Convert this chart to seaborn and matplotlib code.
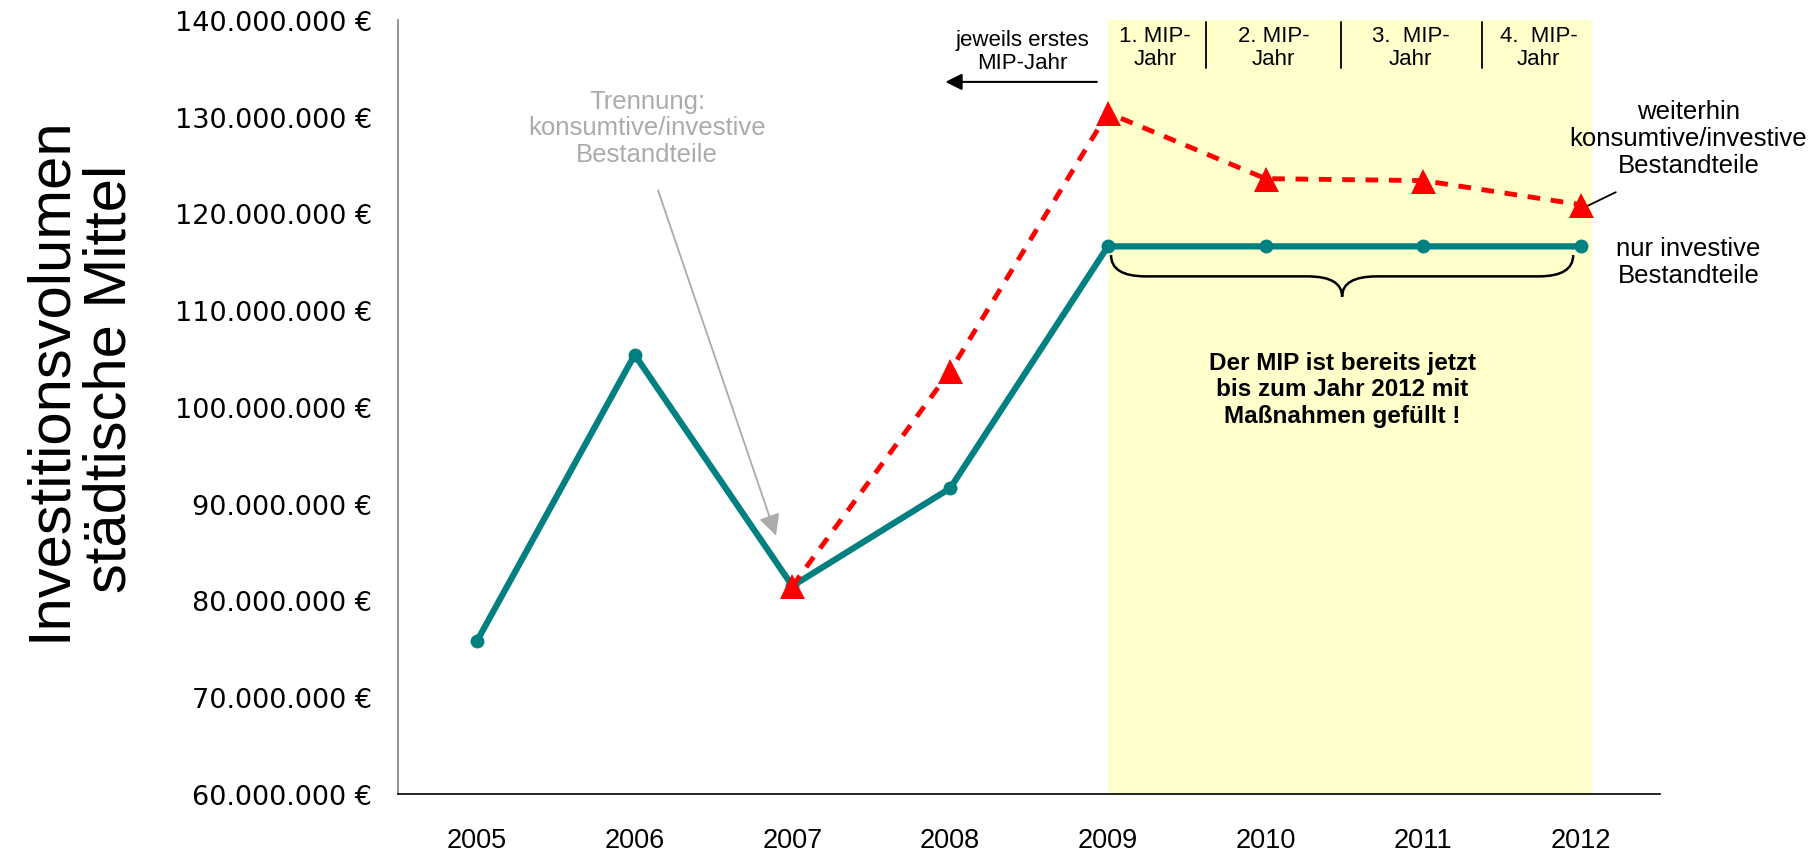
import matplotlib
matplotlib.use("Agg")
import matplotlib.pyplot as plt
from matplotlib.path import Path
from matplotlib.patches import PathPatch
from matplotlib.ticker import FuncFormatter
import numpy as np
import pandas as pd
import seaborn as sns

# Data (Euro)
years = [2005, 2006, 2007, 2008, 2009, 2010, 2011, 2012]
nur_investiv = [75.8e6, 105.4e6, 81.5e6, 91.6e6, 116.6e6, 116.6e6, 116.6e6, 116.6e6]
gesamt = [np.nan, np.nan, 81.5e6, 103.7e6, 130.4e6, 123.6e6, 123.4e6, 120.9e6]
y_ticks = [60e6, 70e6, 80e6, 90e6, 100e6, 110e6, 120e6, 130e6, 140e6]
mip_labels = ["1. MIP-\nJahr", "2. MIP-\nJahr", "3.  MIP-\nJahr", "4.  MIP-\nJahr"]

sns.set_style("white")
plt.rcParams['font.family'] = ['Liberation Sans', 'DejaVu Sans']
plt.rcParams['text.color'] = 'black'
plt.rcParams['xtick.color'] = 'black'
plt.rcParams['ytick.color'] = 'black'

TEAL = '#008080'
RED = '#ff0000'
GRAY = '#ababab'

df = pd.DataFrame({'pos': np.arange(len(years)), 'jahr': years,
                   'investiv': nur_investiv, 'gesamt': gesamt})

fig = plt.figure(figsize=(18.11, 8.53), dpi=100)
ax = fig.add_axes([0.2198, 0.068, 0.6968, 0.9074])

# yellow MIP area
ax.axvspan(4.0, 7.07, color='#ffffcc', zorder=0, lw=0)

sns.lineplot(data=df, x='pos', y='investiv', ax=ax, color=TEAL, lw=4.5,
             marker='o', markersize=10, markeredgewidth=0, estimator=None, zorder=3)
g = df.dropna(subset=['gesamt'])
sns.lineplot(data=g, x='pos', y='gesamt', ax=ax, color=RED, lw=3.5,
             marker='^', markersize=18, markeredgewidth=0, estimator=None,
             dashes=False, zorder=4)
ax.lines[-1].set_dashes([2.6, 2.2])

ax.set_xlim(-0.5, 7.5)
ax.set_ylim(60e6, 140e6)
ax.set_yticks(y_ticks)
ax.yaxis.set_major_formatter(FuncFormatter(lambda v, p: f"{int(v):,}".replace(',', '.') + " €"))
ax.set_xticks(range(len(years)))
ax.set_xticklabels([str(y) for y in years], fontsize=19.5)
ax.set_xticks(np.arange(-0.5, 8.0, 1.0), minor=True)
ax.tick_params(axis='x', which='major', length=0, pad=24)
ax.tick_params(axis='x', which='minor', length=8, width=1, color='black', direction='out')
ax.tick_params(axis='y', length=7, width=1, color='black', direction='out', pad=12)
for lab in ax.get_yticklabels():
    lab.set_fontsize(19.5)
    lab.set_family('DejaVu Sans')
ax.set_xlabel('')
ax.set_ylabel('')
for s in ['top', 'right']:
    ax.spines[s].set_visible(False)
ax.spines['left'].set_color('#808080')
ax.spines['bottom'].set_color('black')
ax.spines['left'].set_linewidth(1.2)
ax.spines['bottom'].set_linewidth(1.2)

fig.text(80 / 1811, 1 - 379 / 853, "Investitionsvolumen\nstädtische Mittel",
         rotation=90, ha='center', va='center', fontsize=43,
         linespacing=1.12, multialignment='center')

# header of MIP years
for xs in [4.62, 5.48, 6.37]:
    ax.plot([xs, xs], [135.0e6, 139.8e6], color='black', lw=1.3, zorder=5)
for xc, lab in zip([4.30, 5.05, 5.92, 6.73], mip_labels):
    ax.text(xc, 137.2e6, lab, ha='center', va='center', fontsize=16,
            linespacing=1.1)

ax.text(3.46, 136.8e6, "jeweils erstes\nMIP-Jahr", ha='center', va='center',
        fontsize=16, linespacing=1.1)
ax.annotate('', xy=(2.97, 133.6e6), xytext=(3.93, 133.6e6),
            arrowprops=dict(arrowstyle='-|>', color='black', lw=1.5,
                            mutation_scale=25, shrinkA=0, shrinkB=0))

# Trennung annotation
ax.text(1.08, 128.9e6, "Trennung:\nkonsumtive/investive\nBestandteile", ha='center',
        va='center', fontsize=18.5, color=GRAY, linespacing=1.15)
ax.annotate('', xy=(1.896, 86.7e6), xytext=(1.148, 122.4e6),
            arrowprops=dict(arrowstyle='-|>', color=GRAY, lw=1.3,
                            mutation_scale=32, shrinkA=0, shrinkB=0))

# right annotations
ax.text(7.68, 127.8e6, "weiterhin\nkonsumtive/investive\nBestandteile", ha='center',
        va='center', fontsize=18.5, linespacing=1.15, clip_on=False)
ax.plot([7.22, 7.03], [122.2e6, 120.7e6], color='black', lw=1.3, clip_on=False)
ax.text(7.68, 115.0e6, "nur investive\nBestandteile", ha='center', va='center',
        fontsize=18.5, linespacing=1.15, clip_on=False)

# brace
x0, x1 = 4.02, 6.95
xm = (x0 + x1) / 2
ytop, ymid, ytip = 115.7e6, 113.5e6, 111.4e6
w = 0.22
verts = [(x0, ytop), (x0, ymid), (x0 + w, ymid), (xm - w, ymid), (xm, ymid), (xm, ytip),
         (xm, ymid), (xm + w, ymid), (x1 - w, ymid), (x1, ymid), (x1, ytop)]
codes = [Path.MOVETO, Path.CURVE3, Path.CURVE3, Path.LINETO, Path.CURVE3, Path.CURVE3,
         Path.CURVE3, Path.CURVE3, Path.LINETO, Path.CURVE3, Path.CURVE3]
ax.add_patch(PathPatch(Path(verts, codes), fill=False, color='black', lw=1.8, zorder=5))

ax.text(xm, 101.9e6, "Der MIP ist bereits jetzt\nbis zum Jahr 2012 mit\nMaßnahmen gefüllt !",
        ha='center', va='center', fontsize=17.5, fontweight='bold', linespacing=1.2)

fig.savefig("out.png", dpi=100)
